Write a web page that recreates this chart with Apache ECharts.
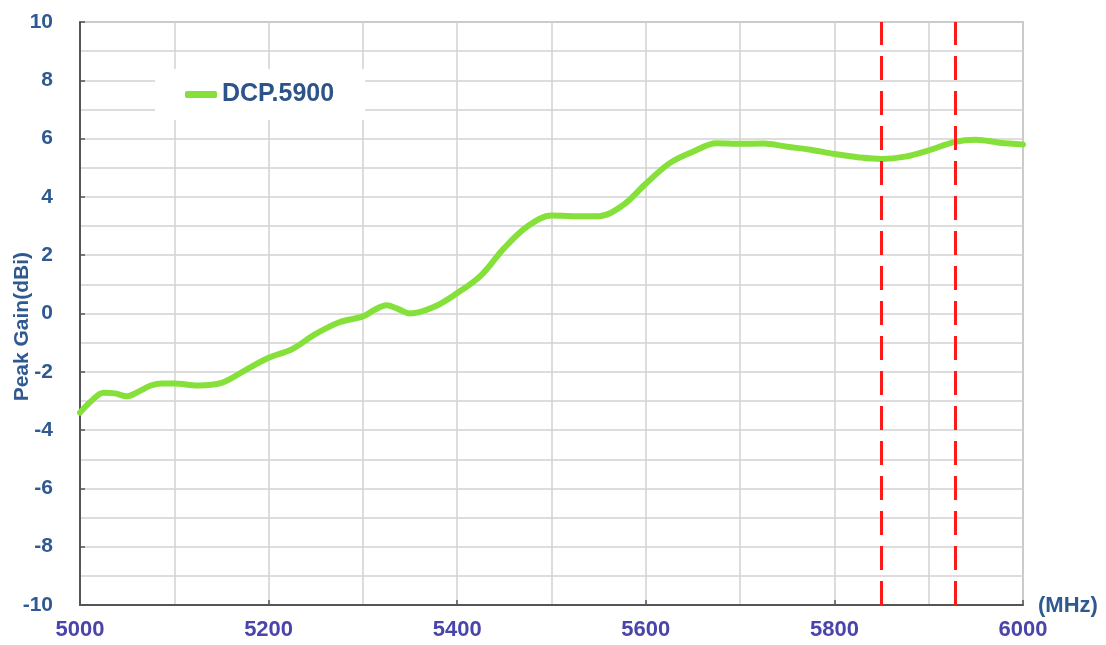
<!DOCTYPE html>
<html>
<head>
<meta charset="utf-8">
<script src="https://cdn.jsdelivr.net/npm/echarts@6/dist/echarts.min.js"></script>
<style>
html,body{margin:0;padding:0;background:#fff;}
#chart{width:1106px;height:645px;}
</style>
</head>
<body>
<div id="chart"></div>
<script>
var seriesName = 'DCP.5900';
var freqs = [5000,5012,5025,5037,5050,5062,5075,5087,5100,5125,5150,5175,5200,5225,5250,5275,5300,5312,5325,5337,5350,5375,5400,5425,5450,5475,5500,5525,5550,5575,5600,5625,5650,5675,5700,5725,5750,5775,5800,5825,5850,5875,5900,5928,5950,5975,6000];
var gains = [-3.40,-3.00,-2.72,-2.74,-2.84,-2.68,-2.47,-2.40,-2.40,-2.47,-2.38,-1.95,-1.52,-1.22,-0.70,-0.30,-0.10,0.12,0.28,0.16,0.00,0.22,0.70,1.30,2.25,3.00,3.36,3.34,3.34,3.70,4.45,5.15,5.55,5.84,5.82,5.83,5.72,5.62,5.47,5.36,5.30,5.38,5.60,5.89,5.96,5.86,5.80];
var markerFreqs = [5850, 5928];
var xTickLabels = ['5000','5200','5400','5600','5800','6000'];
var yTickLabels = ['-10','-8','-6','-4','-2','0','2','4','6','8','10'];
var yAxisTitle = 'Peak Gain(dBi)';
var xUnit = '(MHz)';

var font = '"Liberation Sans", Arial, sans-serif';
var chart = echarts.init(document.getElementById('chart'), null, {renderer: 'canvas'});
var data = freqs.map(function (f, i) { return [f, gains[i]]; });

chart.setOption({
  animation: false,
  backgroundColor: '#ffffff',
  grid: {left: 80, right: 83, top: 22, bottom: 40, show: true, borderColor: '#a0a0a0', borderWidth: 1.5, backgroundColor: 'transparent'},
  legend: {
    data: [{name: seriesName, icon: 'roundRect'}],
    left: 155, top: 69,
    backgroundColor: '#ffffff',
    padding: [13, 31, 13, 30],
    itemWidth: 32, itemHeight: 7,
    textStyle: {fontFamily: font, fontSize: 25, fontWeight: 'bold', color: '#2d5489'}
  },
  xAxis: {
    type: 'value', min: 5000, max: 6000, interval: 200,
    axisLine: {show: true, onZero: false, lineStyle: {color: '#555', width: 2}},
    axisTick: {show: true, inside: true, length: 5, lineStyle: {color: '#555', width: 1.5}},
    axisLabel: {
      margin: 14, fontFamily: font, fontSize: 22, fontWeight: 'bold', color: '#4a45a8',
      formatter: function (v) { var s = String(v); return xTickLabels.indexOf(s) >= 0 ? s : ''; }
    },
    splitLine: {show: true, lineStyle: {color: '#d2d2d2', width: 1.5}},
    minorTick: {show: false, splitNumber: 2},
    minorSplitLine: {show: true, lineStyle: {color: '#d2d2d2', width: 1.5}}
  },
  yAxis: {
    type: 'value', min: -10, max: 10, interval: 2,
    axisLine: {show: true, onZero: false, lineStyle: {color: '#555', width: 2}},
    axisTick: {show: true, inside: true, length: 5, lineStyle: {color: '#555', width: 1.5}},
    axisLabel: {
      margin: 27, fontFamily: font, fontSize: 21, fontWeight: 'bold', color: '#2f5a91',
      formatter: function (v) { var s = String(v); return yTickLabels.indexOf(s) >= 0 ? s : ''; }
    },
    splitLine: {show: true, lineStyle: {color: '#d2d2d2', width: 1.5}},
    minorTick: {show: false, splitNumber: 2},
    minorSplitLine: {show: true, lineStyle: {color: '#d2d2d2', width: 1.5}}
  },
  graphic: [
    {type: 'text', left: 12, top: 252, rotation: Math.PI / 2, z: 10,
      style: {text: yAxisTitle, fontFamily: font, fontSize: 21, fontWeight: 'bold', fill: '#2f5a91'}},
    {type: 'text', left: 1038, top: 595, z: 10,
      style: {text: xUnit, fontFamily: font, fontSize: 22, fontWeight: 'bold', fill: '#2f5a91'}}
  ],
  series: [{
    name: seriesName,
    type: 'line',
    data: data,
    smooth: 0.35,
    symbol: 'none',
    lineStyle: {color: '#85e03a', width: 6, cap: 'round', join: 'round'},
    itemStyle: {color: '#85e03a'},
    z: 2,
    markLine: {
      silent: true,
      symbol: ['none', 'none'],
      label: {show: false},
      z: 5,
      lineStyle: {color: '#ff1a1a', type: [24, 11], width: 3},
      data: markerFreqs.map(function (f) { return {xAxis: f}; })
    }
  }]
});
</script>
</body>
</html>
